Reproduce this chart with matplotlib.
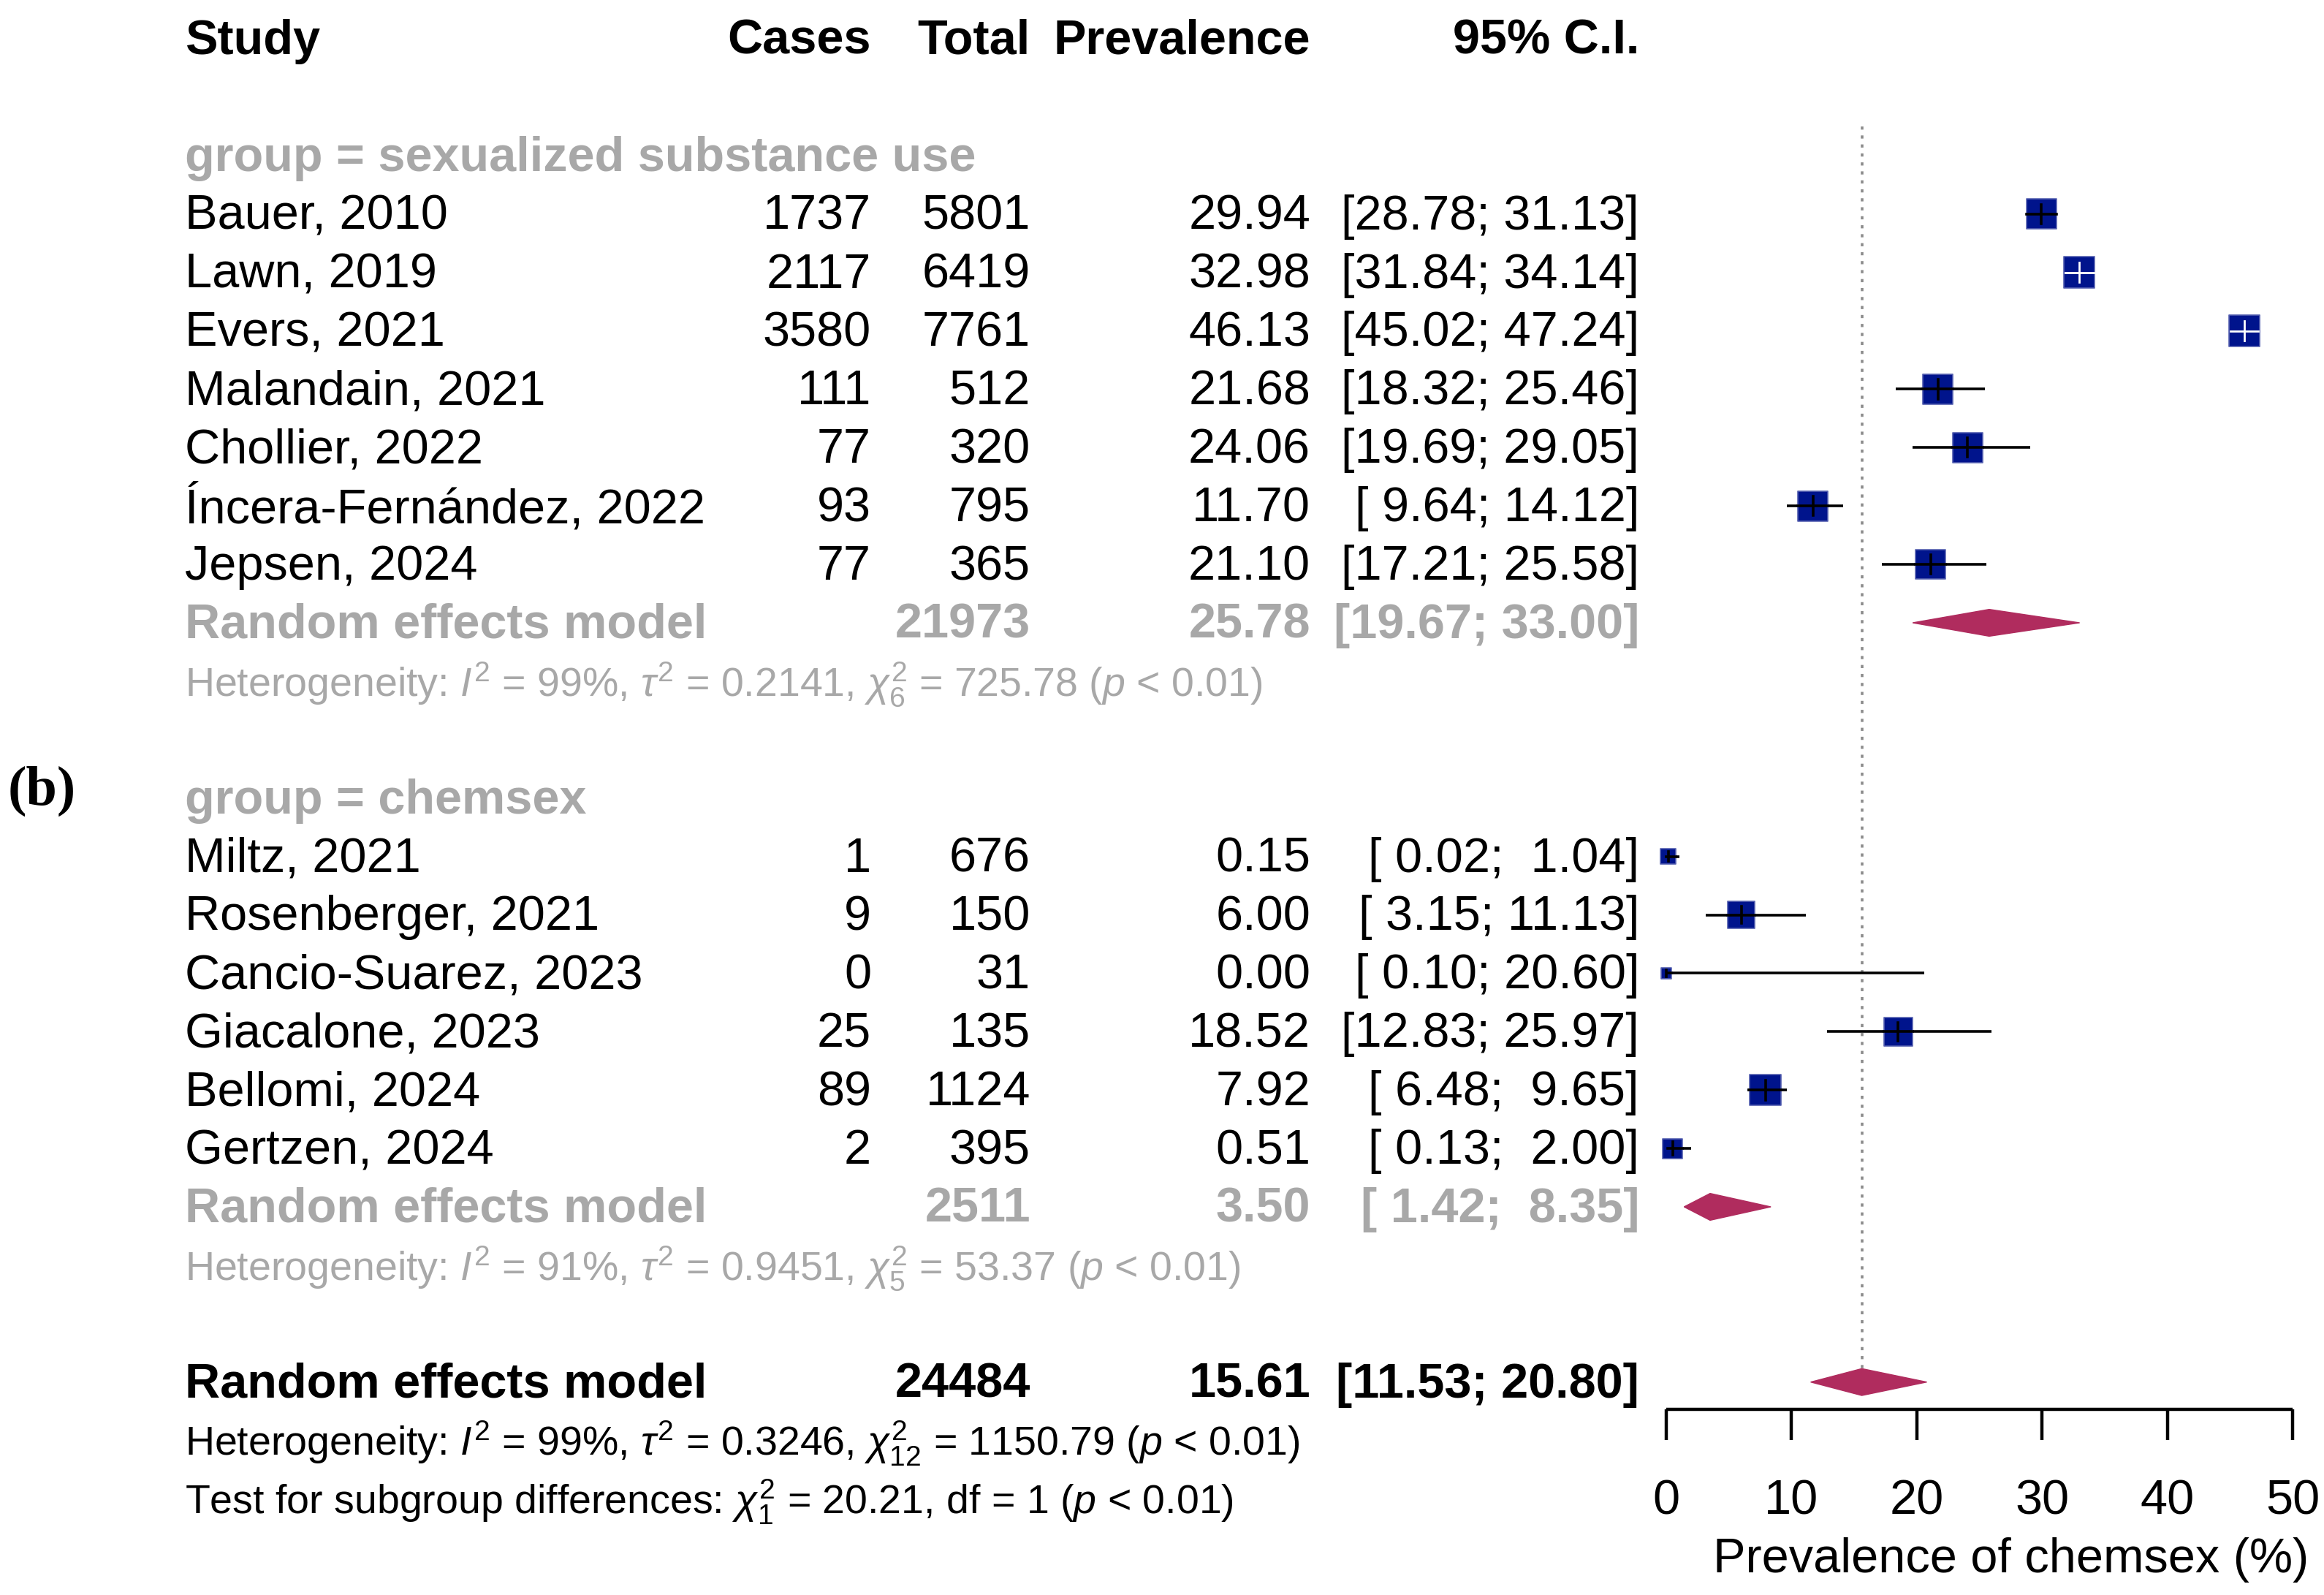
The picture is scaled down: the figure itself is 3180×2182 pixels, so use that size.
import matplotlib
matplotlib.use("Agg")
import matplotlib.pyplot as plt
from matplotlib.patches import Polygon
from matplotlib.transforms import blended_transform_factory
import numpy as np

plt.rcParams['font.family'] = ['Liberation Sans', 'DejaVu Sans']
plt.rcParams['mathtext.fontset'] = 'custom'
plt.rcParams['mathtext.rm'] = 'Liberation Sans'
plt.rcParams['mathtext.it'] = 'Liberation Sans:italic'
plt.rcParams['mathtext.bf'] = 'Liberation Sans:bold'

# ---------------- data ----------------
g1_studies = ["Bauer, 2010", "Lawn, 2019", "Evers, 2021", "Malandain, 2021",
              "Chollier, 2022", "Íncera-Fernández, 2022", "Jepsen, 2024"]
g1_cases = [1737, 2117, 3580, 111, 77, 93, 77]
g1_total = [5801, 6419, 7761, 512, 320, 795, 365]
g1_prev = [29.94, 32.98, 46.13, 21.68, 24.06, 11.70, 21.10]
g1_lo = [28.78, 31.84, 45.02, 18.32, 19.69, 9.64, 17.21]
g1_hi = [31.13, 34.14, 47.24, 25.46, 29.05, 14.12, 25.58]
g1_weight = [13.8, 14.8, 14.8, 14.2, 13.8, 14.0, 13.8]

g2_studies = ["Miltz, 2021", "Rosenberger, 2021", "Cancio-Suarez, 2023",
              "Giacalone, 2023", "Bellomi, 2024", "Gertzen, 2024"]
g2_cases = [1, 9, 0, 25, 89, 2]
g2_total = [676, 150, 31, 135, 1124, 395]
g2_prev = [0.15, 6.00, 0.00, 18.52, 7.92, 0.51]
g2_lo = [0.02, 3.15, 0.10, 12.83, 6.48, 0.13]
g2_hi = [1.04, 11.13, 20.60, 25.97, 9.65, 2.00]
g2_weight = [3.5, 11.5, 1.8, 13.0, 15.0, 6.0]

g1_label = "group = sexualized substance use"
g2_label = "group = chemsex"
g1_re = dict(total=21973, est=25.78, lo=19.67, hi=33.00)
g2_re = dict(total=2511, est=3.50, lo=1.42, hi=8.35)
all_re = dict(total=24484, est=15.61, lo=11.53, hi=20.80)

g1_het = r"Heterogeneity: $I^2$ = 99%, $\tau^2$ = 0.2141, $\chi^2_6$ = 725.78 ($p$ < 0.01)"
g2_het = r"Heterogeneity: $I^2$ = 91%, $\tau^2$ = 0.9451, $\chi^2_5$ = 53.37 ($p$ < 0.01)"
all_het = r"Heterogeneity: $I^2$ = 99%, $\tau^2$ = 0.3246, $\chi^2_{12}$ = 1150.79 ($p$ < 0.01)"
test_txt = r"Test for subgroup differences: $\chi^2_1$ = 20.21, df = 1 ($p$ < 0.01)"

headers = ["Study", "Cases", "Total", "Prevalence", "95% C.I."]
xticks = [0, 10, 20, 30, 40, 50]
xlabel = "Prevalence of chemsex (%)"

# ---------------- layout ----------------
W, H = 3180, 2182
DPI = 200
fig = plt.figure(figsize=(W / DPI, H / DPI), dpi=DPI)
ax = fig.add_axes([0, 0, 1, 1])
ax.set_axis_off()

x0_px, x50_px = 2280, 3137
px_per_unit = (x50_px - x0_px) / 50.0
row0_px, row_px = 53, 79.9
ax.set_xlim(-x0_px / px_per_unit, (W - x0_px) / px_per_unit)
ax.set_ylim((H - row0_px) / row_px, -row0_px / row_px)

TXT_OFF = 0.05  # text baseline compensation (rows)

tr = blended_transform_factory(fig.transFigure, ax.transData)
def fx(px):
    return px / W

col_study, col_cases, col_total, col_prev, col_ci = 253, 1192, 1410, 1793, 2243
FS = 24.0
FS_HET = 20.0
GRAY = '#A8A8A8'
BOX = '#00148C'
DIA = '#B02C5E'

def fmt_ci(lo, hi):
    return "[{:>5}; {:>5}]".format("%.2f" % lo, "%.2f" % hi)

def put(r, s, xpx, ha='left', **kw):
    ax.text(fx(xpx), r + TXT_OFF, s, transform=tr, ha=ha, va='center', **kw)

def row_text(r, name, cases, total, prev, lo, hi, color='black', weight='normal'):
    kw = dict(fontsize=FS, color=color, fontweight=weight)
    put(r, name, col_study, **kw)
    if cases is not None:
        put(r, str(cases), col_cases, ha='right', **kw)
    put(r, str(total), col_total, ha='right', **kw)
    put(r, "%.2f" % prev, col_prev, ha='right', **kw)
    put(r, fmt_ci(lo, hi), col_ci, ha='right', **kw)

# headers
hkw = dict(fontsize=FS, fontweight='bold')
put(0, headers[0], col_study, **hkw)
put(0, headers[1], col_cases, ha='right', **hkw)
put(0, headers[2], col_total, ha='right', **hkw)
put(0, headers[3], col_prev, ha='right', **hkw)
put(0, headers[4], col_ci, ha='right', **hkw)

# reference dotted line
ax.plot([all_re['est'], all_re['est']], [1.5, 23 - 0.23], color='#8C8C8C',
        lw=1.3, ls=(0, (1.2, 2.2)), zorder=1)

def draw_diamond(r, re):
    h = 0.23
    poly = Polygon([[re['lo'], r], [re['est'], r - h], [re['hi'], r], [re['est'], r + h]],
                   closed=True, facecolor=DIA, edgecolor=DIA, lw=0.5, zorder=3)
    ax.add_patch(poly)

def draw_group(start, label, studies, cases, total, prev, lo, hi, wts, re, het):
    put(start, label, col_study, fontsize=FS, color=GRAY, fontweight='bold')
    rows = np.arange(len(studies)) + start + 1
    for r, n, c, t, p, l, h in zip(rows, studies, cases, total, prev, lo, hi):
        row_text(r, n, c, t, p, l, h)
    ax.hlines(rows, lo, hi, color='black', lw=1.3, zorder=2)
    sizes = (np.sqrt(np.array(wts) / 14.8) * 15.2) ** 2
    ax.scatter(prev, rows, s=sizes, marker='s', color=BOX, edgecolors='#5560B0',
               linewidths=0.6, zorder=3)
    # lines drawn inside boxes
    for r, p, l, h, s in zip(rows, prev, lo, hi, sizes):
        half_units = np.sqrt(s) / 72 * DPI / 2 / px_per_unit
        inside = max(p - l, h - p) < half_units
        col = 'white' if inside else 'black'
        lw = 1.0 if inside else 1.3
        ax.plot([max(l, p - half_units), min(h, p + half_units)], [r, r], color=col, lw=lw, zorder=4)
        ax.plot([p, p], [r - 0.17 * np.sqrt(s) / 15.2, r + 0.17 * np.sqrt(s) / 15.2],
                color=col, lw=lw, zorder=4)
    rr = start + len(studies) + 1
    row_text(rr, "Random effects model", None, re['total'], re['est'], re['lo'], re['hi'],
             color=GRAY, weight='bold')
    draw_diamond(rr, re)
    put(rr + 1, het, col_study, fontsize=FS_HET, color=GRAY)

draw_group(2, g1_label, g1_studies, g1_cases, g1_total, g1_prev, g1_lo, g1_hi, g1_weight, g1_re, g1_het)
draw_group(13, g2_label, g2_studies, g2_cases, g2_total, g2_prev, g2_lo, g2_hi, g2_weight, g2_re, g2_het)

# overall
row_text(23, "Random effects model", None, all_re['total'], all_re['est'], all_re['lo'],
         all_re['hi'], color='black', weight='bold')
draw_diamond(23, all_re)
put(24, all_het, col_study, fontsize=FS_HET, color='black')
put(25, test_txt, col_study, fontsize=FS_HET, color='black')

# x axis
axis_row = 23.47
ax.plot([xticks[0], xticks[-1]], [axis_row, axis_row], color='black', lw=1.6, solid_capstyle='butt')
for t in xticks:
    ax.plot([t, t], [axis_row, axis_row + 0.52], color='black', lw=1.6, solid_capstyle='butt')
    ax.text(t, 25.0 + TXT_OFF, str(t), fontsize=FS, ha='center', va='center')
ax.text(27.5, 26.0 + TXT_OFF, xlabel, fontsize=FS, ha='center', va='center')

# panel label
put(12.83, "(b)", 57, ha='center', fontsize=27.5, fontweight='bold', family='Liberation Serif')

fig.savefig("out.png", dpi=DPI)
